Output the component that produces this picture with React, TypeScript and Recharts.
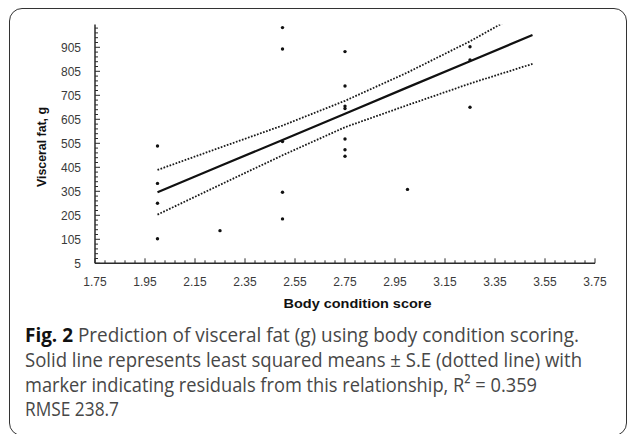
import { ComposedChart, Line, Scatter, XAxis, YAxis } from 'recharts';

// residual markers: body condition score vs visceral fat (g)
const scoreX = [2.0, 2.0, 2.0, 2.0, 2.25, 2.5, 2.5, 2.5, 2.5, 2.5, 2.75, 2.75, 2.75, 2.75, 2.75, 2.75, 2.75, 3.0, 3.25, 3.25, 3.25];
const fatY = [494, 338, 255, 107, 141, 987, 898, 512, 301, 190, 887, 744, 660, 650, 523, 478, 451, 313, 907, 852, 655];

// least squared means and +/- S.E band
const fitX = [2.0, 2.25, 2.5, 2.75, 3.0, 3.25, 3.5];
const fitMean = [301, 410, 519, 628, 738, 847, 956];
const fitUpper = [394, 487, 579, 682, 800, 930, 1076];
const fitLower = [208, 332, 455, 572, 664, 754, 836];

const xMajor = [1.75, 1.95, 2.15, 2.35, 2.55, 2.75, 2.95, 3.15, 3.35, 3.55, 3.75];
const yMajor = [5, 105, 205, 305, 405, 505, 605, 705, 805, 905];

const points = scoreX.map((x, i) => ({ x, y: fatY[i] }));
const fitRows = fitX.map((x, i) => ({ x, mean: fitMean[i], upper: fitUpper[i], lower: fitLower[i] }));

// minor ticks: every 0.04 on x, every 20 on y
const xTicks: number[] = [];
for (let i = 0; i <= 50; i++) xTicks.push(Math.round((1.75 + i * 0.04) * 100) / 100);
const yTicks: number[] = [];
for (let v = 5; v <= 1000; v += 20) yTicks.push(v);

const AXIS = '#2b2b2b';
const TICK_TEXT = '#3a3a3a';
const FONT = '"Liberation Sans", Arial, sans-serif';

const isMajorX = (v: number) => xMajor.some((m) => Math.abs(m - v) < 1e-6);

function XTick(props: any) {
  const { x, y, payload } = props;
  const major = isMajorX(payload.value);
  return (
    <g>
      <line x1={x} x2={x} y1={y} y2={y - (major ? 5 : 3)} stroke={AXIS} strokeWidth={1} />
      {major && (
        <text x={x} y={y + 18.4} dy="0.35em" textAnchor="middle" fontSize={12} fontFamily={FONT} fill={TICK_TEXT}>
          {payload.value.toFixed(2)}
        </text>
      )}
    </g>
  );
}

function YTick(props: any) {
  const { x, y, payload } = props;
  const major = yMajor.includes(payload.value);
  return (
    <g>
      <line x1={x} x2={x + (major ? 5 : 3)} y1={y} y2={y} stroke={AXIS} strokeWidth={1} />
      {major && (
        <text x={x - 14} y={y} dy="0.35em" textAnchor="end" fontSize={12} fontFamily={FONT} fill={TICK_TEXT}>
          {payload.value}
        </text>
      )}
    </g>
  );
}

const dot = (p: any) => <circle cx={p.cx} cy={p.cy} r={1.7} fill="#111" />;

export default function App() {
  return (
    <div style={{ position: 'absolute', left: 0, top: 0, width: 627, height: 434, overflow: 'hidden', background: '#fff' }}>
      <div
        style={{
          position: 'absolute',
          left: 9,
          top: 7.5,
          width: 618,
          height: 428,
          border: '1.5px solid #333',
          borderRadius: 13,
          boxSizing: 'border-box',
        }}
      />
      <div style={{ position: 'absolute', left: 0, top: 0 }}>
        <ComposedChart
          width={627}
          height={320}
          data={fitRows}
          margin={{ top: 24.5, right: 32, bottom: 26.7, left: 35 }}
        >
          <XAxis
            type="number"
            dataKey="x"
            domain={[1.75, 3.75]}
            ticks={xTicks}
            interval={0}
            tickSize={0}
            tickMargin={0}
            tick={(p: any) => <XTick {...p} />}
            axisLine={{ stroke: AXIS, strokeWidth: 1.5 }}
            height={30}
            allowDataOverflow
          />
          <YAxis
            type="number"
            domain={[5, 1000]}
            ticks={yTicks}
            interval={0}
            tickSize={0}
            tickMargin={0}
            tick={(p: any) => <YTick {...p} />}
            axisLine={{ stroke: AXIS, strokeWidth: 1.5 }}
            width={60}
            allowDataOverflow
          />
          <Line dataKey="upper" type="linear" stroke="#1a1a1a" strokeWidth={1.8} strokeDasharray="1.7 1.5" dot={false} activeDot={false} isAnimationActive={false} />
          <Line dataKey="lower" type="linear" stroke="#1a1a1a" strokeWidth={1.8} strokeDasharray="1.7 1.5" dot={false} activeDot={false} isAnimationActive={false} />
          <Line dataKey="mean" type="linear" stroke="#111" strokeWidth={2.2} dot={false} activeDot={false} isAnimationActive={false} />
          <Scatter data={points} dataKey="y" shape={dot} isAnimationActive={false} />
        </ComposedChart>
      </div>
      <svg width={627} height={434} style={{ position: 'absolute', left: 0, top: 0, pointerEvents: 'none' }}>
        <text
          x={0}
          y={0}
          transform="translate(45.5 147) rotate(-90)"
          textAnchor="middle"
          fontSize={12}
          fontWeight={700}
          fontFamily={FONT}
          fill="#111"
          textLength={80}
          lengthAdjust="spacingAndGlyphs"
        >
          Visceral fat, g
        </text>
        <text
          x={283.5}
          y={307.5}
          fontSize={12.5}
          fontWeight={700}
          fontFamily={FONT}
          fill="#111"
          textLength={148}
          lengthAdjust="spacingAndGlyphs"
        >
          Body condition score
        </text>
        <g fontFamily='"Open Sans", "Noto Sans", sans-serif' fontSize={20} fill="#474747">
          <text x={25} y={342} textLength={554} lengthAdjust="spacingAndGlyphs">
            <tspan fontWeight={700} fill="#111">Fig. 2</tspan>
            {' Prediction of visceral fat (g) using body condition scoring.'}
          </text>
          <text x={25} y={367} textLength={557} lengthAdjust="spacingAndGlyphs">
            Solid line represents least squared means ± S.E (dotted line) with
          </text>
          <text x={25} y={391.5} textLength={512} lengthAdjust="spacingAndGlyphs">
            marker indicating residuals from this relationship, R² = 0.359
          </text>
          <text x={25} y={416} textLength={94} lengthAdjust="spacingAndGlyphs">
            RMSE 238.7
          </text>
        </g>
      </svg>
    </div>
  );
}
